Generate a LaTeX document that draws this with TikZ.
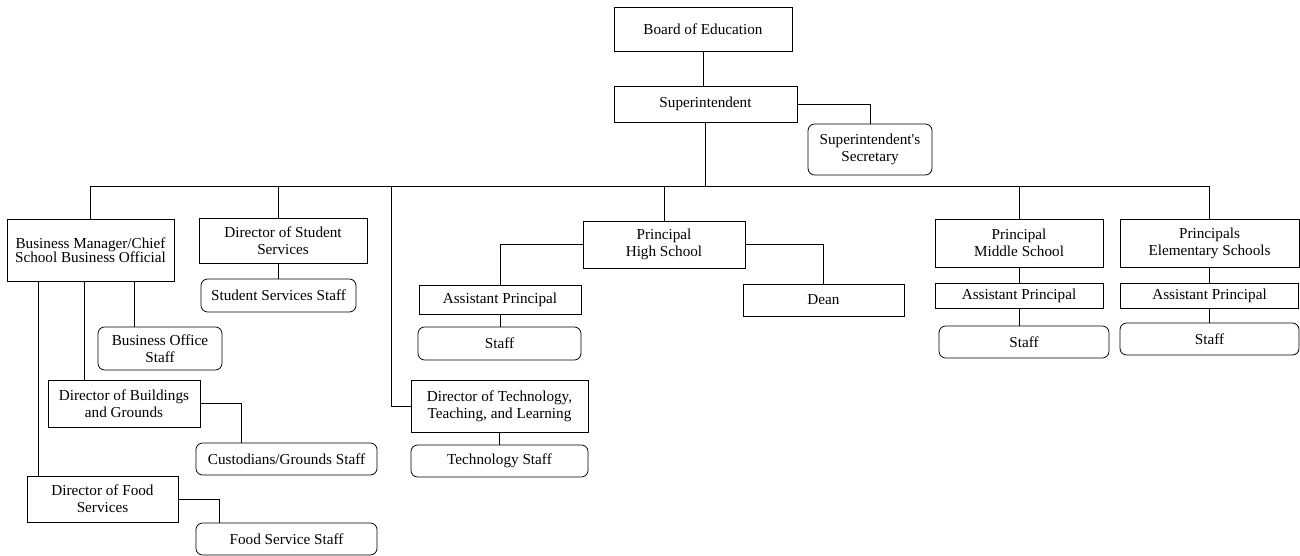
\documentclass[tikz,border=0pt]{standalone}
\usepackage{fontspec}
\setmainfont{Liberation Serif}

\begin{document}
\begin{tikzpicture}[x=0.75pt, y=-0.75pt,
    box/.style 2 args={draw, line width=0.6pt, align=center, inner sep=0pt,
        minimum width=#1*0.75pt, minimum height=#2*0.75pt,
        font=\fontsize{11.4}{12.6}\selectfont},
    staff/.style 2 args={box={#1}{#2}, rounded corners=5pt},
    link/.style={line width=0.6pt}]

    \useasboundingbox (0, 0) rectangle (1300, 556);

    % Board and superintendent
    \node [box={178}{44}] (board) at (703, 29) {Board of Education};
    \node [box={183}{36}] (supt) at (705.5, 104) {Superintendent};
    \node [staff={124}{51}] (secretary) at (870, 149.5)
          {Superintendent\textquotesingle s\\Secretary};

    \draw [link] (board.south) -- (board.south |- supt.north);
    \draw [link] (supt.east) -| (secretary.north);

    % Bus line
    \coordinate (bus) at (0, 186);

    % Business office side
    \node [box={167}{62}, font=\fontsize{11.4}{10.8}\selectfont] (busmgr) at (90.5, 250)
          {Business Manager/Chief\\School Business Official};
    \node [staff={124}{43}] (bizstaff) at (160, 348.5) {Business Office\\Staff};
    \node [box={152}{47}] (bldg) at (124, 403.5) {Director of Buildings\\and Grounds};
    \node [staff={181}{32}] (cust) at (286.5, 459) {Custodians/Grounds Staff};
    \node [box={151}{46}] (food) at (102.5, 499) {Director of Food\\Services};
    \node [staff={181}{32}] (foodstaff) at (286.5, 539) {Food Service Staff};

    \draw [link] ([xshift=24pt]busmgr.south west) coordinate (f1) -- (f1 |- food.north);
    \draw [link] ([xshift=58.5pt]busmgr.south west) coordinate (f2) -- (f2 |- bldg.north);
    \draw [link] ([xshift=96pt]busmgr.south west) coordinate (f3) -- (f3 |- bizstaff.north);
    \draw [link] (bldg.east) -| ([xshift=34.5pt]cust.north west);
    \draw [link] (food.east) -| ([xshift=18pt]foodstaff.north west);

    % Student services
    \node [box={168}{45}] (stusvc) at (283, 240.5) {Director of Student\\Services};
    \node [staff={155}{33}] (stustaff) at (278.5, 295.5) {Student Services Staff};

    \draw [link] (stusvc.south -| stustaff.north) -- (stustaff.north);

    % Technology
    \node [box={177}{52}] (tech) at (499.5, 406)
          {Director of Technology,\\Teaching, and Learning};
    \node [staff={177}{32}] (techstaff) at (499.5, 461) {Technology Staff};

    \draw [link] (tech.south) -- (techstaff.north);

    % High school
    \node [box={162}{47}] (hs) at (664, 244.5) {Principal\\High School};
    \node [box={162}{29}] (hsap) at (500, 299.5) {Assistant Principal};
    \node [staff={163}{33}] (hsstaff) at (499.5, 343.5) {Staff};
    \node [box={161}{32}] (dean) at (823.5, 300) {Dean};

    \draw [link] (hs.west) -| (hsap.north);
    \draw [link] (hs.east) -| (dean.north);
    \draw [link] (hsap.south) -- (hsap.south |- hsstaff.north);

    % Middle school
    \node [box={168}{48}] (ms) at (1019, 243) {Principal\\Middle School};
    \node [box={168}{25}] (msap) at (1019, 295.5) {Assistant Principal};
    \node [staff={170}{32}] (msstaff) at (1024, 342) {Staff};

    \draw [link] (ms.south) -- (msap.north);
    \draw [link] (msap.south) -- (msap.south |- msstaff.north);

    % Elementary schools
    \node [box={179}{48}] (es) at (1209.5, 243) {Principals\\Elementary Schools};
    \node [box={178}{25}] (esap) at (1209.5, 295.5) {Assistant Principal};
    \node [staff={179}{32}] (esstaff) at (1209.5, 339) {Staff};

    \draw [link] (es.south) -- (esap.north);
    \draw [link] (esap.south) -- (esstaff.north);

    % Edges from the bus
    \draw [link] (supt.south) -- (supt.south |- bus);
    \draw [link] (busmgr.north |- bus) -- (es.north |- bus);
    \draw [link] (busmgr.north |- bus) -- (busmgr.north);
    \draw [link] (stustaff.north |- bus) -- (stusvc.north -| stustaff.north);
    \draw [link] (391, 186) |- (tech.west);
    \draw [link] (hs.north |- bus) -- (hs.north);
    \draw [link] (ms.north |- bus) -- (ms.north);
    \draw [link] (es.north |- bus) -- (es.north);
  \end{tikzpicture}
\end{document}
